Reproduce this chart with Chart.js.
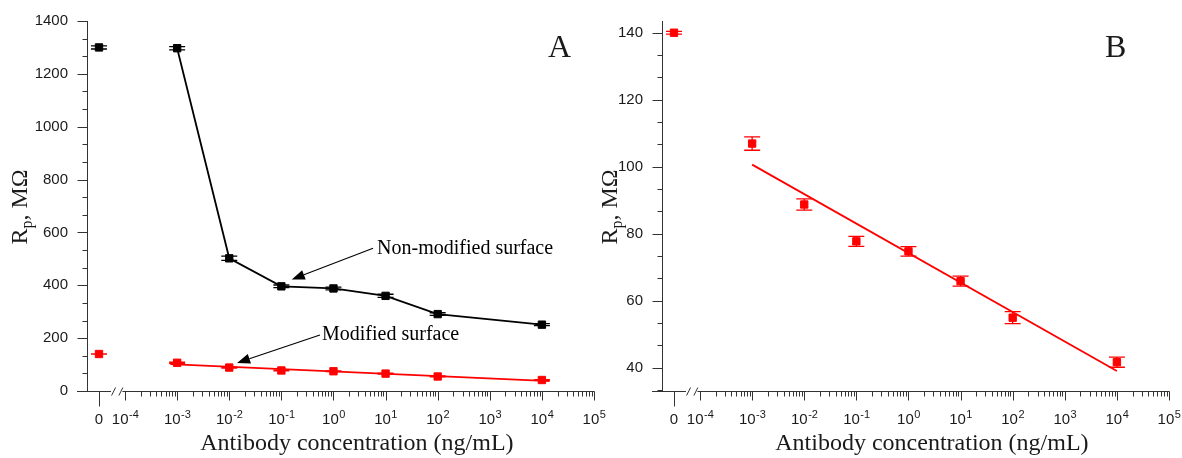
<!DOCTYPE html>
<html>
<head>
<meta charset="utf-8">
<script src="https://cdn.jsdelivr.net/npm/chart.js@4"></script>
<style>
  html, body { margin: 0; padding: 0; background: #fff; }
  #wrap { position: relative; width: 1182px; height: 458px; }
  canvas { position: absolute; top: 0; }
  #chartA { left: 0; }
  #chartB { left: 590px; }
</style>
</head>
<body>
<div id="wrap">
  <canvas id="chartA" width="615" height="458"></canvas>
  <canvas id="chartB" width="592" height="458"></canvas>
</div>
<script>
// Antibody concentration, ng/mL. 0 = no antibody, drawn left of the axis break.
const concentrations = [0, 1e-3, 1e-2, 1e-1, 1, 10, 100, 1e4];

// Panel A, black: non-modified surface
const nonModified    = [1300, 1297, 502, 396, 388, 360, 291, 251];
const nonModifiedErr = [6, 6, 8, 5, 5, 6, 5, 4];

// Panels A and B, red: modified surface
const modified    = [140, 106.9, 88.7, 77.7, 74.7, 65.8, 54.9, 41.6];
const modifiedErr = [0.4, 2.0, 1.7, 1.5, 1.4, 1.5, 1.8, 1.5];

// Linear fit (vs log concentration) of the modified surface, ends of drawn segment
const fitConcA   = [7.4e-4, 1.4e4];
const fitValuesA = [101.8, 37.7];
const fitConcB   = [1e-3, 1e4];
const fitValuesB = [100.6, 39.0];

// Axis ticks
const decades  = [-4, -3, -2, -1, 0, 1, 2, 3, 4, 5];
const yTicksA  = [0, 200, 400, 600, 800, 1000, 1200, 1400];
const yTicksB  = [40, 60, 80, 100, 120, 140];

const X_TITLE = "Antibody concentration (ng/mL)";

// x axis runs in decades; the zero point sits half a decade left of 10^-4
const ZERO_POS = -4.5;
const X_MIN = -4.73, X_MAX = 5;
const toAxis = c => c === 0 ? ZERO_POS : Math.log10(c);
const pts = (xs, ys) => xs.map((c, i) => ({ x: toAxis(c), y: ys[i] }));

const AXIS_COLOR = "#333";
const TEXT_COLOR = "#1a1a1a";
const TICK_FONT = '15px "Liberation Sans", Arial, sans-serif';
const SUP_FONT  = '11px "Liberation Sans", Arial, sans-serif';
const SERIF = '"Liberation Serif", "Times New Roman", serif';
const CAP = 8;

function drawErrorBars(chart, bars) {
  const { ctx, scales: { x, y } } = chart;
  ctx.save();
  bars.forEach(b => {
    ctx.strokeStyle = b.color;
    ctx.lineWidth = 1.3;
    b.conc.forEach((c, i) => {
      const px = x.getPixelForValue(toAxis(c));
      const top = y.getPixelForValue(b.values[i] + b.errs[i]);
      const bot = y.getPixelForValue(b.values[i] - b.errs[i]);
      ctx.beginPath();
      ctx.moveTo(px, top); ctx.lineTo(px, bot);
      ctx.moveTo(px - CAP, top); ctx.lineTo(px + CAP, top);
      ctx.moveTo(px - CAP, bot); ctx.lineTo(px + CAP, bot);
      ctx.stroke();
    });
  });
  ctx.restore();
}

function drawPower(ctx, exp, cx, baseline) {
  const base = "10", sup = String(exp);
  ctx.font = TICK_FONT;
  const wb = ctx.measureText(base).width;
  ctx.font = SUP_FONT;
  const ws = ctx.measureText(sup).width;
  const left = cx - (wb + ws) / 2;
  ctx.textAlign = "left";
  ctx.font = TICK_FONT;
  ctx.fillText(base, left, baseline);
  ctx.font = SUP_FONT;
  ctx.fillText(sup, left + wb + 0.5, baseline - 6);
}

function drawArrow(ctx, x0, y0, x1, y1) {
  const ang = Math.atan2(y1 - y0, x1 - x0);
  const len = 13, half = 5;
  const bx = x1 - len * Math.cos(ang), by = y1 - len * Math.sin(ang);
  ctx.beginPath();
  ctx.moveTo(x0, y0); ctx.lineTo(bx, by);
  ctx.stroke();
  ctx.beginPath();
  ctx.moveTo(x1, y1);
  ctx.lineTo(bx + half * Math.sin(ang), by - half * Math.cos(ang));
  ctx.lineTo(bx - half * Math.sin(ang), by + half * Math.cos(ang));
  ctx.closePath();
  ctx.fill();
}

function drawFrame(chart, spec) {
  const { ctx, chartArea: a, scales: { x, y } } = chart;
  const bY = a.bottom + 0.5;
  const lX = a.left + 0.5;
  ctx.save();
  ctx.strokeStyle = AXIS_COLOR;
  ctx.fillStyle = TEXT_COLOR;
  ctx.lineWidth = 1;

  // x axis, broken between 0 and 10^-4
  ctx.beginPath();
  ctx.moveTo(a.left - 10, bY);
  ctx.lineTo(x.getPixelForValue(-4.27), bY);
  ctx.moveTo(x.getPixelForValue(-4.05), bY);
  ctx.lineTo(a.right + 0.5, bY);
  [-4.22, -4.08].forEach(u => {
    const cx = x.getPixelForValue(u);
    ctx.moveTo(cx - 2, bY + 4);
    ctx.lineTo(cx + 2, bY - 4);
  });
  const zx = Math.round(x.getPixelForValue(ZERO_POS)) + 0.5;
  ctx.moveTo(zx, bY); ctx.lineTo(zx, bY + 15);
  decades.forEach(d => {
    const px = Math.round(x.getPixelForValue(d)) + 0.5;
    ctx.moveTo(px, bY); ctx.lineTo(px, bY + 9);
    if (d < 5) {
      for (let k = 2; k <= 9; k++) {
        const mx = Math.round(x.getPixelForValue(d + Math.log10(k))) + 0.5;
        ctx.moveTo(mx, bY); ctx.lineTo(mx, bY + 5);
      }
    }
  });

  // y axis with 3 sub-intervals per major step
  ctx.moveTo(lX, a.top); ctx.lineTo(lX, bY);
  const step = spec.yTicks[1] - spec.yTicks[0];
  for (let v = spec.yTicks[0] - step; v <= y.max + 1e-6; v += step / 3) {
    if (v < y.min - 1e-6) continue;
    const py = Math.round(y.getPixelForValue(v)) + 0.5;
    const major = spec.yTicks.some(t => Math.abs(t - v) < 1e-6);
    ctx.moveTo(lX, py); ctx.lineTo(lX - (major ? 10 : 5), py);
  }
  ctx.stroke();

  // tick labels
  ctx.font = TICK_FONT;
  ctx.textAlign = "right";
  ctx.textBaseline = "middle";
  spec.yTicks.forEach(t => ctx.fillText(String(t), a.left - 19, y.getPixelForValue(t)));
  ctx.textBaseline = "alphabetic";
  const labY = a.bottom + 33;
  ctx.textAlign = "center";
  ctx.fillText("0", x.getPixelForValue(ZERO_POS), labY);
  decades.forEach(d => drawPower(ctx, d, x.getPixelForValue(d), labY));

  // x title
  ctx.font = "24px " + SERIF;
  ctx.textAlign = "center";
  ctx.fillText(X_TITLE, x.getPixelForValue(0.45), 450);

  // y title: R_p, MΩ (rotated)
  ctx.save();
  ctx.translate(27, (a.top + a.bottom) / 2 + 1);
  ctx.rotate(-Math.PI / 2);
  ctx.textAlign = "left";
  ctx.font = "24px " + SERIF;
  const wR = ctx.measureText("R").width;
  const wRest = ctx.measureText(", M\u03A9").width;
  ctx.font = "16px " + SERIF;
  const wP = ctx.measureText("p").width;
  let cx = -(wR + wP + wRest) / 2;
  ctx.font = "24px " + SERIF;
  ctx.fillText("R", cx, 0);
  ctx.font = "16px " + SERIF;
  ctx.fillText("p", cx + wR, 5);
  ctx.font = "24px " + SERIF;
  ctx.fillText(", M\u03A9", cx + wR + wP, 0);
  ctx.restore();

  // panel letter
  ctx.font = "32px " + SERIF;
  ctx.textAlign = "left";
  ctx.fillText(spec.letter, a.right + spec.letterDx, a.top + 36);

  // annotations (positions in axis units)
  ctx.font = "20px " + SERIF;
  ctx.strokeStyle = "#000";
  ctx.fillStyle = "#000";
  ctx.lineWidth = 1.1;
  (spec.notes || []).forEach(n => {
    ctx.fillText(n.text, x.getPixelForValue(n.at[0]), y.getPixelForValue(n.at[1]));
    drawArrow(ctx,
      x.getPixelForValue(n.from[0]), y.getPixelForValue(n.from[1]),
      x.getPixelForValue(n.to[0]), y.getPixelForValue(n.to[1]));
  });
  ctx.restore();
}

function makeFrame(spec) {
  return {
    id: "frame",
    beforeDatasetsDraw(chart) { drawErrorBars(chart, spec.errorBars); },
    afterDraw(chart) { drawFrame(chart, spec); }
  };
}

function marker(color) {
  return {
    showLine: false,
    pointStyle: "rect",
    pointRadius: 5.2,
    pointBorderWidth: 1,
    pointBackgroundColor: color,
    pointBorderColor: color
  };
}

function baseOptions(padding, yMin, yMax) {
  return {
    responsive: false,
    animation: false,
    events: [],
    layout: { padding: padding },
    scales: {
      x: { type: "linear", min: X_MIN, max: X_MAX, display: false },
      y: { type: "linear", min: yMin, max: yMax, display: false }
    },
    plugins: { legend: { display: false }, tooltip: { enabled: false } }
  };
}

// Panel A
const curveA = pts(concentrations, nonModified);
new Chart(document.getElementById("chartA"), {
  type: "scatter",
  data: {
    datasets: [
      Object.assign({ data: curveA.slice(0, 1), order: 0 }, marker("#000")),
      Object.assign({ data: curveA.slice(1), order: 1 }, marker("#000"),
        { showLine: true, borderColor: "#000", borderWidth: 1.8 }),
      Object.assign({ data: pts(concentrations, modified), order: 0 }, marker("#f00")),
      { data: pts(fitConcA, fitValuesA), order: 2, showLine: true, pointRadius: 0,
        borderColor: "#f00", borderWidth: 1.8 }
    ]
  },
  options: baseOptions({ left: 87, right: 21, top: 21, bottom: 67 }, 0, 1400),
  plugins: [makeFrame({
    yTicks: yTicksA,
    letter: "A",
    letterDx: -46,
    errorBars: [
      { conc: concentrations, values: nonModified, errs: nonModifiedErr, color: "#000" },
      { conc: concentrations, values: modified, errs: modifiedErr, color: "#f00" }
    ],
    notes: [
      { text: "Non-modified surface", at: [0.837, 518], from: [0.76, 540], to: [-0.8, 422] },
      { text: "Modified surface", at: [-0.22, 193], from: [-0.26, 212], to: [-1.85, 106] }
    ]
  })]
});

// Panel B
new Chart(document.getElementById("chartB"), {
  type: "scatter",
  data: {
    datasets: [
      Object.assign({ data: pts(concentrations, modified), order: 0 }, marker("#f00")),
      { data: pts(fitConcB, fitValuesB), order: 1, showLine: true, pointRadius: 0,
        borderColor: "#f00", borderWidth: 1.8 }
    ]
  },
  options: baseOptions({ left: 72, right: 13, top: 21, bottom: 67 }, 33, 143.5),
  plugins: [makeFrame({
    yTicks: yTicksB,
    letter: "B",
    letterDx: -64,
    errorBars: [
      { conc: concentrations, values: modified, errs: modifiedErr, color: "#f00" }
    ]
  })]
});
</script>
</body>
</html>
